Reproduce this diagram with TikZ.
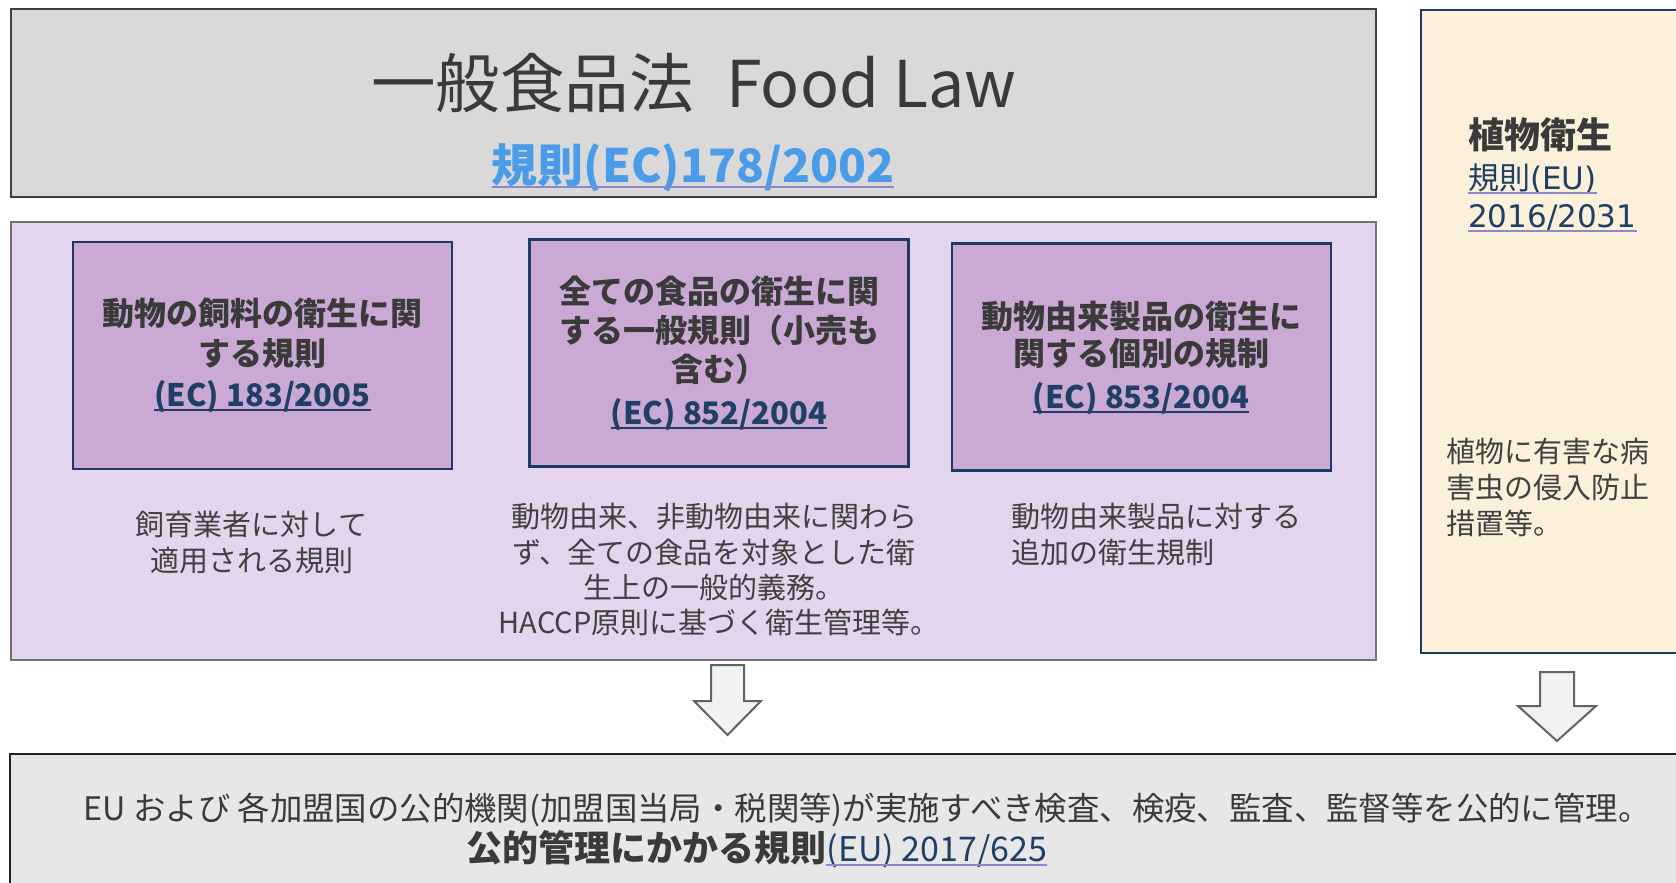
\documentclass[tikz,border=0pt]{standalone}
\usepackage{fontspec}
\setmainfont{Noto Sans CJK JP}
\newfontfamily\dejavu{DejaVu Sans}
\usetikzlibrary{calc}
\definecolor{topfill}{HTML}{D9D9D9}
\definecolor{topdraw}{HTML}{404040}
\definecolor{purfill}{HTML}{E4D5EE}
\definecolor{purdraw}{HTML}{737373}
\definecolor{inner}{HTML}{CAAAD4}
\definecolor{navy}{HTML}{1F3864}
\definecolor{linknavy}{HTML}{1F3F66}
\definecolor{cream}{HTML}{FBF0D9}
\definecolor{botfill}{HTML}{E7E7E7}
\definecolor{botdraw}{HTML}{222222}
\definecolor{txtdark}{HTML}{3A3A3A}
\definecolor{txtgray}{HTML}{404040}
\definecolor{subblue}{HTML}{4A9BE8}
\definecolor{ulpurple}{HTML}{8E88C8}
\definecolor{arrfill}{HTML}{F2F2F2}
\definecolor{arrdraw}{HTML}{5F6468}
\begin{document}
\begin{tikzpicture}[x=1pt,y=-1pt,
  panel/.style={draw, inner sep=0pt, line width=#1},
  innerbox/.style={draw=navy, fill=inner, line width=2.5pt, inner sep=0pt, minimum width=379pt, minimum height=227pt},
  txt/.style={inner sep=0pt, anchor=base},
  txtw/.style={inner sep=0pt, anchor=base west},
  boldtxt/.style={txt, text=txtdark, font=\bfseries\fontsize{32}{38}\selectfont},
  linktxt/.style={txt, text=linknavy, font=\bfseries\fontsize{31}{37}\selectfont},
  desctxt/.style={text=txtgray, font=\fontsize{29}{35}\selectfont},
  ulnavy/.style={draw=linknavy, line width=1.8pt},
  ulpur/.style={draw=ulpurple, line width=2pt},
  blockarrow/.style={draw=arrdraw, fill=arrfill, line width=2pt, line join=miter}
]
\useasboundingbox (0,0) rectangle (1676,883);
\clip (0,0) rectangle (1676,883);
\fill[white] (0,0) rectangle (1676,883);

% panels
\node[panel=2pt, draw=topdraw, fill=topfill, minimum width=1365pt, minimum height=188pt] (top) at (693,103) {};
\node[panel=2pt, draw=purdraw, fill=purfill, minimum width=1365pt, minimum height=438pt] (purple) at (693,440.5) {};
\node[innerbox] (box1) at (262.4,355.7) {};
\node[innerbox] (box2) at (719,352.8) {};
\node[innerbox] (box3) at (1141.4,357.2) {};
\node[panel=2.5pt, draw=navy, fill=cream, minimum width=268pt, minimum height=643pt] (right) at (1555,331.3) {};
\node[panel=2.5pt, draw=botdraw, fill=botfill, minimum width=1680pt, minimum height=142pt] (bottom) at (850,825) {};

% arrows
\draw[blockarrow] (711,665) -- (744,665) -- (744,701) -- (761,701) -- (727.5,735) -- (694,701) -- (711,701) -- cycle;
\draw[blockarrow] (1540,672) -- (1574,672) -- (1574,706) -- (1596,706) -- (1557,741) -- (1518,706) -- (1540,706) -- cycle;

% title
\node[txt, text=txtdark, font=\fontsize{64.5}{72}\selectfont] (title) at (694,107) {一般食品法\hspace{0.5em}Food Law};
\node[txt, text=subblue, font=\bfseries\fontsize{46}{52}\selectfont] (sub) at (693,182) {規則(EC)178/2002};
\draw[ulpur, line width=2.5pt] ([yshift=-5pt]sub.base west) -- ([yshift=-5pt]sub.base east);

% box 1
\node[boldtxt] (b1a) at (262.4,325) {動物の飼料の衛生に関};
\node[boldtxt] (b1b) at (262.4,365) {する規則};
\node[linktxt] (b1l) at (262.4,406) {(EC) 183/2005};
\draw[ulnavy] ([yshift=-4pt]b1l.base west) -- ([yshift=-4pt]b1l.base east);

% box 2
\node[boldtxt] (b2a) at (719,303) {全ての食品の衛生に関};
\node[boldtxt] (b2b) at (719,342) {する一般規則（小売も};
\node[boldtxt] (b2c) at (719,381) {含む）};
\node[linktxt] (b2l) at (719,424) {(EC) 852/2004};
\draw[ulnavy] ([yshift=-4pt]b2l.base west) -- ([yshift=-4pt]b2l.base east);

% box 3
\node[boldtxt] (b3a) at (1141,328) {動物由来製品の衛生に};
\node[boldtxt] (b3b) at (1141,365) {関する個別の規制};
\node[linktxt] (b3l) at (1141,408) {(EC) 853/2004};
\draw[ulnavy] ([yshift=-4pt]b3l.base west) -- ([yshift=-4pt]b3l.base east);

% descriptions
\node[txt, desctxt] (d1a) at (251.5,535) {飼育業者に対して};
\node[txt, desctxt] (d1b) at (251.5,571) {適用される規則};
\node[txt, desctxt] (d2a) at (714,527) {動物由来、非動物由来に関わら};
\node[txt, desctxt] (d2b) at (714,563) {ず、全ての食品を対象とした衛};
\node[txt, desctxt] (d2c) at (714,598) {生上の一般的義務。};
\node[txt, desctxt] (d2d) at (719,633) {HACCP原則に基づく衛生管理等。};
\node[txtw, desctxt] (d3a) at (1011,527) {動物由来製品に対する};
\node[txtw, desctxt] (d3b) at (1011,563) {追加の衛生規制};

% right panel
\node[txtw, text=txtdark, font=\bfseries\fontsize{36}{42}\selectfont] (rt) at (1468,148) {植物衛生};
\node[txtw, text=linknavy, font=\fontsize{31}{36}\selectfont] (rl1) at (1468,189) {規則{\dejavu (EU)}};
\node[txtw, text=linknavy, font=\dejavu\fontsize{31}{36}\selectfont] (rl2) at (1468,227) {2016/2031};
\draw[draw=ulpurple, line width=1.3pt] ([yshift=-4pt]rl1.base west) -- ([yshift=-4pt]rl1.base east);
\draw[draw=ulpurple, line width=1.3pt] ([yshift=-4pt]rl2.base west) -- ([yshift=-4pt]rl2.base east);
\node[txtw, desctxt] (rd1) at (1446,462) {植物に有害な病};
\node[txtw, desctxt] (rd2) at (1446,498) {害虫の侵入防止};
\node[txtw, desctxt] (rd3) at (1446,534) {措置等。};

% bottom
\node[txt, text=txtdark, font=\fontsize{32.4}{38}\selectfont] (bt1) at (867,820) {EU および 各加盟国の公的機関(加盟国当局・税関等)が実施すべき検査、検疫、監査、監督等を公的に管理。};
\node[txtw, text=txtdark, font=\bfseries\fontsize{36}{42}\selectfont] (bt2) at (466,861) {公的管理にかかる規則};
\node[txtw, text=linknavy, font=\fontsize{34}{40}\selectfont] (bt3) at (bt2.base east) {(EU) 2017/625};
\draw[ulpur] ([yshift=-4pt]bt3.base west) -- ([yshift=-4pt]bt3.base east);
\end{tikzpicture}
\end{document}
